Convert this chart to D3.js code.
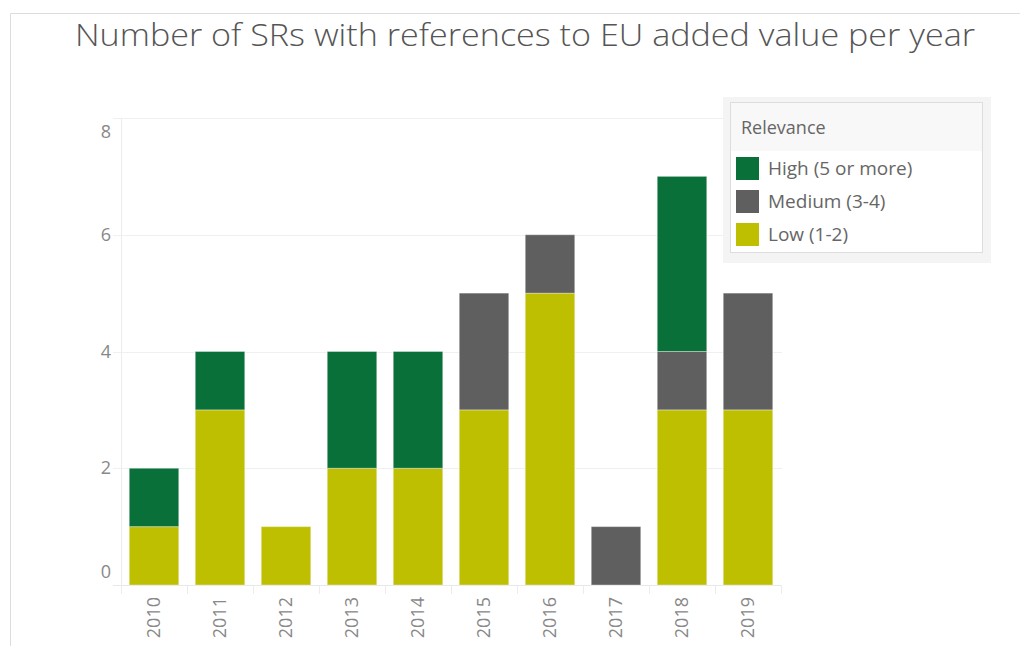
<!DOCTYPE html>
<html>
<head>
<meta charset="utf-8">
<script src="https://cdn.jsdelivr.net/npm/d3@7"></script>
<style>
  body { margin: 0; background: #fff; }
  text { font-family: "Open Sans", Lato, sans-serif; }
</style>
</head>
<body>
<div id="chart"></div>
<script>
// data
var years = ["2010", "2011", "2012", "2013", "2014", "2015", "2016", "2017", "2018", "2019"];
var lowValues = [1, 3, 1, 2, 2, 3, 5, 0, 3, 3];
var mediumValues = [0, 0, 0, 0, 0, 2, 1, 1, 1, 2];
var highValues = [1, 1, 0, 2, 2, 0, 0, 0, 3, 0];
var seriesNames = ["Low (1-2)", "Medium (3-4)", "High (5 or more)"];
var seriesColors = ["#bdbf00", "#5f5f5f", "#0a703a"];
var yTicks = [0, 2, 4, 6, 8];

var width = 1020, height = 646;
var plotLeft = 121, plotRight = 781, plotTop = 118, plotBottom = 585;

// 1. Build the rows for d3.stack
var rows = years.map(function (y, i) {
  return { year: y, low: lowValues[i], medium: mediumValues[i], high: highValues[i] };
});
var stack = d3.stack().keys(["low", "medium", "high"]);
var layers = stack(rows);

// 2. Scales
var xScale = d3.scaleBand().domain(years).range([plotLeft, plotRight]).paddingInner(0.25).paddingOuter(0.125);
var yScale = d3.scaleLinear().domain([0, 8]).range([plotBottom, plotTop]);

var svg = d3.select("#chart").append("svg")
  .attr("width", width)
  .attr("height", height);

// outer frame
svg.append("path")
  .attr("d", "M10.5," + height + "V13.5H" + width)
  .attr("fill", "none")
  .attr("stroke", "#dcdcdc");

// title
svg.append("text")
  .attr("x", 75)
  .attr("y", 46)
  .attr("font-size", 31)
  .attr("font-weight", 300)
  .attr("fill", "#555")
  .attr("textLength", 900)
  .attr("lengthAdjust", "spacingAndGlyphs")
  .text("Number of SRs with references to EU added value per year");

// 3. Gridlines
svg.append("g").selectAll("line").data(yTicks)
  .enter().append("line")
  .attr("x1", 113)
  .attr("x2", plotRight + 1)
  .attr("y1", function (d) { return Math.round(yScale(d)) + 0.5; })
  .attr("y2", function (d) { return Math.round(yScale(d)) + 0.5; })
  .attr("stroke", function (d) { return d === 0 ? "#e8e8e8" : "#f0f0f0"; });

// y axis line
svg.append("line")
  .attr("x1", plotLeft + 0.5).attr("x2", plotLeft + 0.5)
  .attr("y1", plotTop).attr("y2", plotBottom + 9)
  .attr("stroke", "#ececec");

// band separators under the baseline
svg.append("g").selectAll("line").data(years.slice(1).concat(["end"]))
  .enter().append("line")
  .attr("x1", function (d, i) { return Math.round(plotLeft + (i + 1) * xScale.step()) + 0.5; })
  .attr("x2", function (d, i) { return Math.round(plotLeft + (i + 1) * xScale.step()) + 0.5; })
  .attr("y1", plotBottom)
  .attr("y2", plotBottom + 9)
  .attr("stroke", "#ececec");

// y tick labels (end labels are kept inside the plot, as in the original)
svg.append("g").selectAll("text").data(yTicks)
  .enter().append("text")
  .attr("x", 111)
  .attr("y", function (d) {
    var shift = d === 8 ? 14 : (d === 0 ? -13 : 0);
    return yScale(d) + shift + 6;
  })
  .attr("text-anchor", "end")
  .attr("font-size", 18)
  .attr("fill", "#888")
  .text(function (d) { return d; });

// 4. Bars
svg.append("g").selectAll("g").data(layers)
  .enter().append("g")
  .attr("fill", function (d, i) { return seriesColors[i]; })
  .selectAll("rect").data(function (d) { return d.filter(function (p) { return p[1] > p[0]; }); })
  .enter().append("rect")
  .attr("x", function (d) { return xScale(d.data.year); })
  .attr("width", xScale.bandwidth())
  .attr("y", function (d) { return yScale(d[1]); })
  .attr("height", function (d) { return yScale(d[0]) - yScale(d[1]); })
  .attr("stroke", "rgba(255,255,255,0.35)")
  .attr("stroke-width", 1);

// x tick labels, rotated
svg.append("g").selectAll("text").data(years)
  .enter().append("text")
  .attr("transform", function (d) {
    return "translate(" + (xScale(d) + xScale.bandwidth() / 2 + 6) + "," + 597 + ")rotate(-90)";
  })
  .attr("text-anchor", "end")
  .attr("font-size", 18)
  .attr("fill", "#888")
  .text(function (d) { return d; });

// 5. Legend
var legend = svg.append("g");
legend.append("rect")
  .attr("x", 723).attr("y", 97).attr("width", 268).attr("height", 166)
  .attr("fill", "#f4f4f4");
legend.append("rect")
  .attr("x", 730.5).attr("y", 102.5).attr("width", 252).attr("height", 150)
  .attr("fill", "#fff").attr("stroke", "#dddddd");
legend.append("rect")
  .attr("x", 731).attr("y", 103).attr("width", 251).attr("height", 48)
  .attr("fill", "#f8f8f8");
legend.append("text")
  .attr("x", 741).attr("y", 134)
  .attr("font-size", 18)
  .attr("fill", "#666")
  .text("Relevance");

var legendOrder = [2, 1, 0];
legend.selectAll("g.item").data(legendOrder)
  .enter().append("g")
  .attr("class", "item")
  .attr("transform", function (d, i) { return "translate(736," + (157 + i * 33) + ")"; })
  .each(function (d) {
    var g = d3.select(this);
    g.append("rect").attr("width", 23).attr("height", 23).attr("fill", seriesColors[d]);
    g.append("text").attr("x", 32).attr("y", 18)
      .attr("font-size", 19).attr("fill", "#666")
      .text(seriesNames[d]);
  });
</script>
</body>
</html>
